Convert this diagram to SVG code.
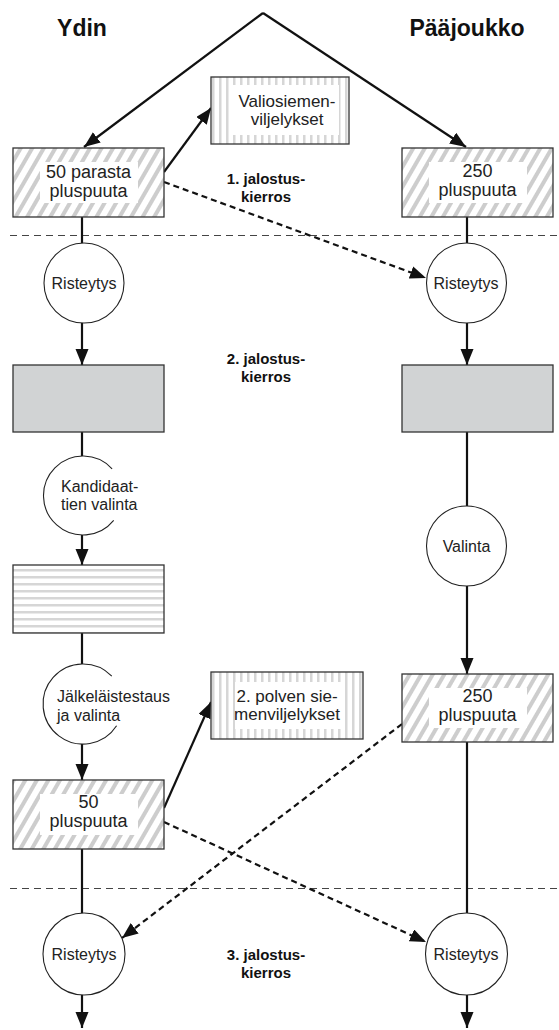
<svg xmlns="http://www.w3.org/2000/svg" width="559" height="1030" viewBox="0 0 559 1030">
<style>
.box{fill:none;stroke:#333;stroke-width:1.3}
.inner{fill:#fff}
.circ{fill:#fff;stroke:#222;stroke-width:1.1}
.arc{fill:none;stroke:#222;stroke-width:1.1}
.t18{font-family:"Liberation Sans",Arial,sans-serif;font-size:18px;fill:#222;text-anchor:middle}
.t17{font-family:"Liberation Sans",Arial,sans-serif;font-size:17px;fill:#222;text-anchor:middle}
.t16{font-family:"Liberation Sans",Arial,sans-serif;font-size:16px;fill:#222;text-anchor:middle}
.t16l{font-family:"Liberation Sans",Arial,sans-serif;font-size:16px;fill:#222}
.hdr{font-family:"Liberation Sans",Arial,sans-serif;font-size:23px;font-weight:bold;fill:#111;text-anchor:middle}
.lbl{font-family:"Liberation Sans",Arial,sans-serif;font-size:15px;font-weight:bold;fill:#111;text-anchor:middle}
.con{fill:none;stroke:#111;stroke-width:2.2}
.dash{fill:none;stroke:#111;stroke-width:2.2;stroke-dasharray:6 4}
.div{fill:none;stroke:#444;stroke-width:1;stroke-dasharray:7 5}
</style>
<defs>
<marker id="ah" markerUnits="userSpaceOnUse" markerWidth="17" markerHeight="14" refX="16" refY="6.5" orient="auto">
<path d="M0,0 L16,6.5 L0,13 z" fill="#111"/>
</marker>
<pattern id="diag" width="10" height="10" patternUnits="userSpaceOnUse" patternTransform="rotate(30)">
<rect width="10" height="10" fill="#fff"/><rect width="4" height="10" fill="#cdcdcd"/>
</pattern>
<pattern id="vert" width="7" height="10" patternUnits="userSpaceOnUse">
<rect width="7" height="10" fill="#fff"/><rect x="2" width="2.5" height="10" fill="#d6d6d6"/>
</pattern>
<pattern id="horiz" width="10" height="7" patternUnits="userSpaceOnUse">
<rect width="10" height="7" fill="#fff"/><rect y="2" width="10" height="2.5" fill="#d6d6d6"/>
</pattern>
</defs>
<rect width="559" height="1030" fill="#fff"/>

<g id="dividers">
<line class="div" x1="10" y1="235.5" x2="559" y2="235.5"/>
<line class="div" x1="10" y1="888.5" x2="559" y2="888.5"/>
</g>

<g id="headers">
<text class="hdr" x="82" y="36">Ydin</text>
<text class="hdr" x="467" y="36">Pääjoukko</text>
</g>

<g id="round-labels">
<text class="lbl" x="266" y="184">1. jalostus-</text>
<text class="lbl" x="266" y="202">kierros</text>
<text class="lbl" x="266" y="364">2. jalostus-</text>
<text class="lbl" x="266" y="382">kierros</text>
<text class="lbl" x="266" y="960">3. jalostus-</text>
<text class="lbl" x="266" y="978">kierros</text>
</g>

<g id="connectors">
<path class="con" d="M263,13 L84,147" marker-end="url(#ah)"/>
<path class="con" d="M263,13 L466,147" marker-end="url(#ah)"/>
<path class="con" d="M164,172 L211,108" marker-end="url(#ah)"/>
<path class="dash" d="M164,182 L426,278" marker-end="url(#ah)"/>
<path class="con" d="M164,808 L211,702" marker-end="url(#ah)"/>
<path class="dash" d="M402,724 L122,938" marker-end="url(#ah)"/>
<path class="dash" d="M164,822 L426,942" marker-end="url(#ah)"/>
<path class="con" d="M82,217 L82,243"/>
<path class="con" d="M82,323 L82,365" marker-end="url(#ah)"/>
<path class="con" d="M82,432 L82,456"/>
<path class="con" d="M82,535 L82,565" marker-end="url(#ah)"/>
<path class="con" d="M82,633 L82,664"/>
<path class="con" d="M82,744 L82,780" marker-end="url(#ah)"/>
<path class="con" d="M82,849 L82,913"/>
<path class="con" d="M82,995 L82,1028" marker-end="url(#ah)"/>
<path class="con" d="M467,217 L467,243"/>
<path class="con" d="M467,323 L467,365" marker-end="url(#ah)"/>
<path class="con" d="M467,432 L467,506"/>
<path class="con" d="M467,586 L467,674" marker-end="url(#ah)"/>
<path class="con" d="M467,742 L467,913"/>
<path class="con" d="M467,995 L467,1028" marker-end="url(#ah)"/>
</g>

<g id="core-50-best">
<rect x="13" y="148" width="151" height="69" fill="url(#diag)"/>
<rect class="inner" x="40" y="162" width="98" height="41"/>
<rect class="box" x="13" y="148" width="151" height="69"/>
<text class="t18" x="88.5" y="178">50 parasta</text>
<text class="t18" x="88.5" y="197">pluspuuta</text>
</g>

<g id="main-250-1">
<rect x="402" y="148" width="151" height="69" fill="url(#diag)"/>
<rect class="inner" x="429" y="162" width="98" height="41"/>
<rect class="box" x="402" y="148" width="151" height="69"/>
<text class="t18" x="477.5" y="177">250</text>
<text class="t18" x="477.5" y="196">pluspuuta</text>
</g>

<g id="elite-seed-orchards">
<rect x="211" y="77" width="138" height="67" fill="url(#vert)"/>
<rect class="inner" x="233" y="85" width="106" height="50"/>
<rect class="box" x="211" y="77" width="138" height="67"/>
<text class="t17" x="287" y="107">Valiosiemen-</text>
<text class="t17" x="287" y="125">viljelykset</text>
</g>

<g id="cross-left-1">
<circle class="circ" cx="84" cy="283" r="40"/>
<text class="t16" x="84" y="289">Risteytys</text>
</g>

<g id="cross-right-1">
<circle class="circ" cx="466.5" cy="283" r="40"/>
<text class="t16" x="466" y="289">Risteytys</text>
</g>

<g id="gray-left">
<rect x="13" y="365" width="151" height="67" fill="#d1d3d4" stroke="#333" stroke-width="1.3"/>
</g>

<g id="gray-right">
<rect x="402" y="365" width="151" height="67" fill="#d1d3d4" stroke="#333" stroke-width="1.3"/>
</g>

<g id="candidate-selection">
<path class="arc" d="M112.1,468.8 A39.5,39.5 0 1 0 113.7,520.4"/>
<text class="t16l" x="61" y="492">Kandidaat-</text>
<text class="t16l" x="61" y="510">tien valinta</text>
</g>

<g id="selection-right">
<circle class="circ" cx="466.5" cy="546" r="40"/>
<text class="t16" x="466.5" y="552">Valinta</text>
</g>

<g id="striped-left">
<rect x="13" y="565" width="151" height="68" fill="url(#horiz)"/>
<rect class="box" x="13" y="565" width="151" height="68"/>
</g>

<g id="progeny-testing">
<path class="arc" d="M111.8,676.2 A40,40 0 1 0 116.6,725.8"/>
<text class="t16l" x="57" y="702">Jälkeläistestaus</text>
<text class="t16l" x="57" y="721">ja valinta</text>
</g>

<g id="second-gen-seed-orchards">
<rect x="211" y="672" width="152" height="67" fill="url(#vert)"/>
<rect class="inner" x="235" y="682" width="107" height="47"/>
<rect class="box" x="211" y="672" width="152" height="67"/>
<text class="t17" x="287" y="702">2. polven sie-</text>
<text class="t17" x="287" y="720">menviljelykset</text>
</g>

<g id="main-250-2">
<rect x="402" y="674" width="151" height="68" fill="url(#diag)"/>
<rect class="inner" x="429" y="688" width="98" height="40"/>
<rect class="box" x="402" y="674" width="151" height="68"/>
<text class="t18" x="477.5" y="702">250</text>
<text class="t18" x="477.5" y="721">pluspuuta</text>
</g>

<g id="core-50">
<rect x="13" y="780" width="151" height="69" fill="url(#diag)"/>
<rect class="inner" x="40" y="794" width="98" height="41"/>
<rect class="box" x="13" y="780" width="151" height="69"/>
<text class="t18" x="88.5" y="808">50</text>
<text class="t18" x="88.5" y="827">pluspuuta</text>
</g>

<g id="cross-left-2">
<circle class="circ" cx="84" cy="954" r="41"/>
<text class="t16" x="84" y="960">Risteytys</text>
</g>

<g id="cross-right-2">
<circle class="circ" cx="466.5" cy="954" r="41"/>
<text class="t16" x="466" y="960">Risteytys</text>
</g>
</svg>
